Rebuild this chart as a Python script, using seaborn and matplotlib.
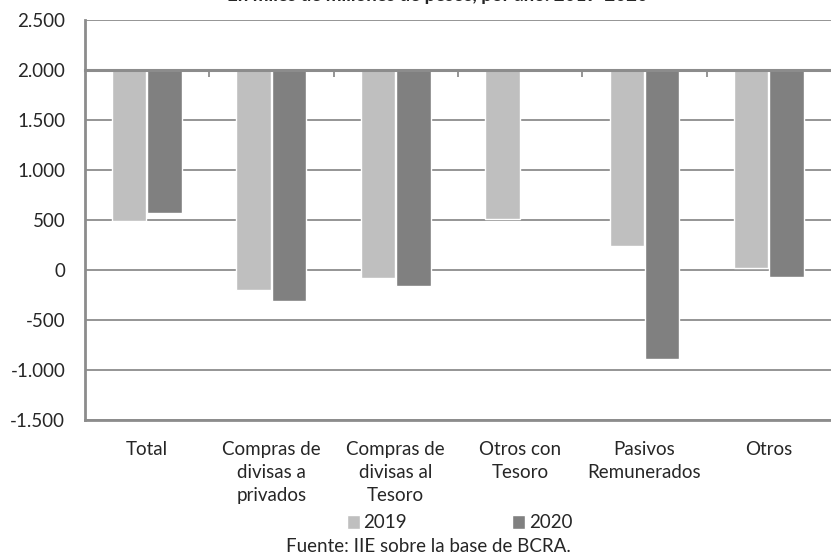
import numpy as np
import pandas as pd
import matplotlib
matplotlib.use("Agg")
import matplotlib.pyplot as plt
from matplotlib.ticker import FuncFormatter, FixedLocator
import seaborn as sns

# datos (miles de millones de pesos)
categorias = ["Total", "Compras de\ndivisas a\nprivados", "Compras de\ndivisas al\nTesoro",
              "Otros con\nTesoro", "Pasivos\nRemunerados", "Otros"]
valores_2019 = [490, -200, -83, 513, 240, 17]
valores_2020 = [573, -310, -163, np.nan, -887, -67]
anios = ["2019", "2020"]
base = 2000  # el eje de categorias cruza en 2.000

df = pd.DataFrame({
    "categoria": categorias * 2,
    "anio": [anios[0]] * len(categorias) + [anios[1]] * len(categorias),
    "valor": valores_2019 + valores_2020,
})

sns.set_style("white")
plt.rcParams["font.family"] = ["Lato", "DejaVu Sans"]
fs = 13.5

fig = plt.figure(figsize=(8.31, 5.56), dpi=100)
ax = fig.add_axes([0.102, 0.2446, 0.898, 0.7195])

sns.barplot(data=df, x="categoria", y="valor", hue="anio",
            palette=["#bfbfbf", "#808080"], width=0.57, gap=0.03,
            saturation=1, ax=ax)

# barras desde el cruce del eje (2.000) hasta el valor
for cont in ax.containers:
    for p in cont.patches:
        h = p.get_height()
        if np.isnan(h):
            p.set_visible(False)
            continue
        p.set_y(base)
        p.set_height(h - base)

handles, labels = ax.get_legend_handles_labels()
ax.get_legend().remove()

ax.set_ylim(-1500, 2500)
ax.set_xlim(-0.5, len(categorias) - 0.5)
ax.yaxis.set_major_locator(FixedLocator(np.arange(-1500, 2501, 500)))
ax.yaxis.set_major_formatter(FuncFormatter(lambda v, p: f"{int(v):,}".replace(",", ".")))
ax.set_xlabel("")
ax.set_ylabel("")

grid_c = "#8c8c8c"
ax.yaxis.grid(True, color=grid_c, lw=1.3)
ax.set_axisbelow(True)

for s in ["left", "bottom"]:
    ax.spines[s].set_color(grid_c)
    ax.spines[s].set_linewidth(2)
ax.spines["right"].set_visible(False)
ax.spines["top"].set_position(("data", base))
ax.spines["top"].set_color(grid_c)
ax.spines["top"].set_linewidth(2.2)

ax.tick_params(axis="y", length=6, width=1.3, color=grid_c, pad=8, labelsize=fs)
ax.tick_params(axis="x", bottom=False, length=0, pad=15, labelsize=fs)
ax.xaxis.set_minor_locator(FixedLocator(np.arange(0.5, len(categorias) - 0.5, 1)))
ax.tick_params(axis="x", which="minor", top=True, bottom=False, direction="in",
               length=5, width=1.3, color=grid_c)

for t in ax.get_xticklabels():
    t.set_linespacing(1.45)

fig.legend(handles, labels, loc="center", bbox_to_anchor=(0.553, 1 - 523 / 556), ncol=2,
           frameon=False, handlelength=0.7, handleheight=0.7, handletextpad=0.2,
           columnspacing=5.6, fontsize=fs)

fig.text(0.516, 1 - 547 / 556, "Fuente: IIE sobre la base de BCRA.", ha="center",
         va="center", fontsize=fs)
# titulo recortado en el borde superior, como en el original
fig.text(0.527, 1 - 0.5 / 556, "En miles de millones de pesos, por año. 2019-2020",
         ha="center", va="baseline", fontsize=fs, fontweight="bold")

fig.savefig("out.png", dpi=100)
